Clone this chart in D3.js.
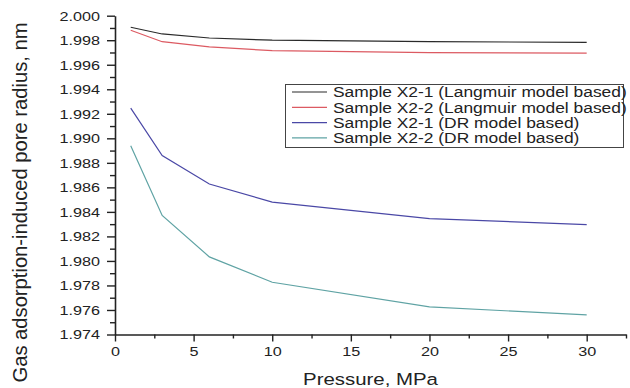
<!DOCTYPE html>
<html>
<head>
<meta charset="utf-8">
<script src="https://cdn.jsdelivr.net/npm/d3@7"></script>
<style>
  body { margin: 0; background: #fff; }
  text { font-family: "Liberation Sans", Arial, sans-serif; fill: #222; }
</style>
</head>
<body>
<div id="chart"></div>
<script>
let width = 630,
    height = 388,
    margin = ({ top: 15.7, right: 4, bottom: 53.5, left: 115 });

// data
const pressure = [1, 3, 6, 10, 20, 30];
const langX21 = [1.99906, 1.99851, 1.99818, 1.99800, 1.99788, 1.99783];
const langX22 = [1.99881, 1.99788, 1.99745, 1.99715, 1.99699, 1.99694];
const drX21 = [1.99246, 1.98860, 1.98627, 1.98480, 1.98345, 1.98296];
const drX22 = [1.98939, 1.98371, 1.98033, 1.97826, 1.97625, 1.97560];

const seriesNames = [
  "Sample X2-1 (Langmuir model based)",
  "Sample X2-2 (Langmuir model based)",
  "Sample X2-1 (DR model based)",
  "Sample X2-2 (DR model based)"
];
const seriesColors = ["#2a2a2a", "#dc5a62", "#4a48a6", "#5fa3a4"];

const xTicks = [0, 5, 10, 15, 20, 25, 30];
const xMinor = [2.5, 7.5, 12.5, 17.5, 22.5, 27.5, 32.5];
const yTicks = d3.range(0, 14).map(i => +(1.974 + i * 0.002).toFixed(3));
const yMinor = d3.range(0, 13).map(i => +(1.975 + i * 0.002).toFixed(3));

const stretchX = 1.2; // the picture is a bit wide, glyphs look stretched

const svg = d3.select("#chart")
  .append("svg")
  .attr("width", width)
  .attr("height", height);

let x = d3.scaleLinear()
  .domain([0, 32.5])
  .range([margin.left, width - margin.right]);

let y = d3.scaleLinear()
  .domain([1.974, 2.000])
  .range([height - margin.bottom, margin.top]);

function stretch(sel) { // widen text around its anchor
  sel.each(function () {
    let t = d3.select(this);
    let tx = +t.attr("x") || 0;
    t.attr("transform", `translate(${tx},0) scale(${stretchX},1) translate(${-tx},0)`);
  });
}

// y axis
let yAxis = svg.append("g")
  .attr("transform", `translate(${margin.left},0)`)
  .call(d3.axisLeft(y).tickValues(yTicks).tickFormat(d3.format(".3f")).tickSize(8).tickPadding(7).tickSizeOuter(0));
yAxis.selectAll("text").style("font-size", "13.5px").call(stretch);

svg.append("g")
  .attr("transform", `translate(${margin.left},0)`)
  .call(d3.axisLeft(y).tickValues(yMinor).tickFormat("").tickSize(5).tickSizeOuter(0))
  .select(".domain").remove();

// x axis
let xAxis = svg.append("g")
  .attr("transform", `translate(0,${height - margin.bottom})`)
  .call(d3.axisBottom(x).tickValues(xTicks).tickSize(7).tickPadding(5).tickSizeOuter(0));
xAxis.selectAll("text").style("font-size", "13.5px").call(stretch);

svg.append("g")
  .attr("transform", `translate(0,${height - margin.bottom})`)
  .call(d3.axisBottom(x).tickValues(xMinor).tickFormat("").tickSize(4).tickSizeOuter(0))
  .select(".domain").remove();

svg.selectAll(".domain").attr("stroke", "#222").attr("stroke-width", 1.6);
svg.selectAll(".tick line").attr("stroke", "#222").attr("stroke-width", 1.4);

// axis titles
svg.append("text")
  .attr("x", 370.5)
  .attr("y", 385)
  .attr("text-anchor", "middle")
  .style("font-size", "17px")
  .text("Pressure, MPa")
  .call(stretch);

svg.append("text")
  .attr("transform", `translate(27,202.5) scale(${stretchX},1) rotate(-90)`)
  .attr("text-anchor", "middle")
  .attr("textLength", 360)
  .attr("lengthAdjust", "spacingAndGlyphs")
  .style("font-size", "17.5px")
  .text("Gas adsorption-induced pore radius, nm");

// lines
let allSeries = [langX21, langX22, drX21, drX22];
let line = d3.line()
  .x((d, i) => x(pressure[i]))
  .y(d => y(d));

allSeries.forEach((vals, k) => {
  svg.append("path")
    .datum(vals)
    .attr("fill", "none")
    .attr("stroke", seriesColors[k])
    .attr("stroke-width", 1.2)
    .attr("d", line);
});

// legend
let legend = svg.append("g");
legend.append("rect")
  .attr("x", 285.5)
  .attr("y", 84.5)
  .attr("width", 338)
  .attr("height", 63)
  .attr("fill", "#fff")
  .attr("stroke", "#444")
  .attr("stroke-width", 1);

seriesNames.forEach((name, k) => {
  let ly = 92 + k * 15.3;
  legend.append("line")
    .attr("x1", 292).attr("x2", 327)
    .attr("y1", ly).attr("y2", ly)
    .attr("stroke", seriesColors[k])
    .attr("stroke-width", 1.2);
  legend.append("text")
    .attr("x", 333)
    .attr("y", ly)
    .attr("dy", "0.36em")
    .style("font-size", "14.5px")
    .text(name)
    .call(stretch);
});
</script>
</body>
</html>
